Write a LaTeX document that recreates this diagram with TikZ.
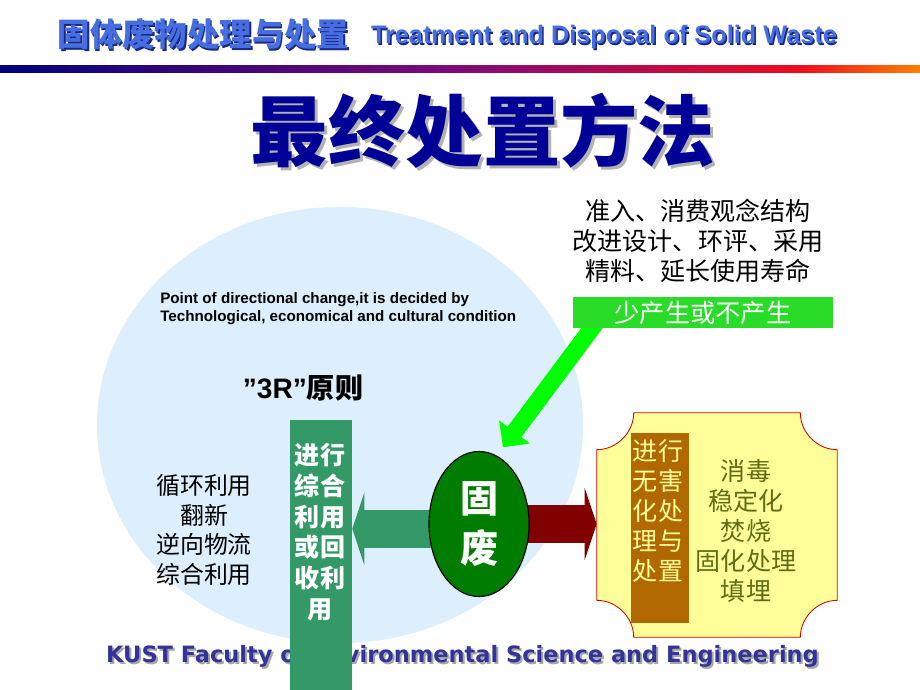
\documentclass[tikz,border=0pt]{standalone}
\usepackage{fontspec}
\setmainfont{Liberation Sans}
\newfontfamily\cjk{Noto Sans CJK SC}
\newfontfamily\footfont{DejaVu Sans}
\usetikzlibrary{arrows.meta, shapes.geometric, positioning, calc, backgrounds}

\definecolor{headblue}{RGB}{70,110,225}
\definecolor{headshade}{RGB}{25,40,130}
\definecolor{titleblue}{RGB}{0,0,150}
\definecolor{bubbleblue}{RGB}{221,239,252}
\definecolor{seagreen}{RGB}{51,153,102}
\definecolor{wastegreen}{RGB}{0,125,0}
\definecolor{limegreen}{RGB}{0,255,0}
\definecolor{boxgreen}{RGB}{40,220,40}
\definecolor{darkred}{RGB}{128,0,0}
\definecolor{plaqueyellow}{RGB}{255,255,153}
\definecolor{harmbrown}{RGB}{178,104,0}
\definecolor{olivetext}{RGB}{95,110,20}
\definecolor{footblue}{RGB}{51,51,153}
\definecolor{barnavy}{RGB}{0,0,128}
\definecolor{barpurple}{RGB}{128,10,120}
\definecolor{barred}{RGB}{240,10,30}
\definecolor{barorange}{RGB}{255,128,0}

\begin{document}
\begin{tikzpicture}[x=0.025cm, y=-0.025cm]
  \tikzstyle{cjktext}=[font=\cjk\fontsize{17.8}{21.5}\selectfont, align=center, inner sep=0pt]
  \tikzstyle{cjkbold}=[cjktext, font=\cjk\bfseries\fontsize{17.8}{21.8}\selectfont]
  \tikzstyle{headcn}=[font=\cjk\bfseries\fontsize{23}{26}\selectfont, inner sep=0pt]
  \tikzstyle{headen}=[font=\bfseries\fontsize{18}{20}\selectfont, inner sep=0pt]
  \tikzstyle{titlefont}=[font=\cjk\bfseries\fontsize{55}{60}\selectfont, inner sep=0pt]
  \tikzstyle{footer}=[font=\footfont\bfseries\fontsize{16}{18}\selectfont, inner sep=0pt]
  \tikzstyle{bigarrow}=[line width=0.95cm, -{Triangle[length=0.3cm, width=1.8cm]}]
  \tikzstyle{thinarrow}=[line width=0.43cm, limegreen, -{Triangle[length=0.48cm, width=0.93cm]}]

  \useasboundingbox (0,0) rectangle (920,690);

  % header line
  \shade[left color=barnavy, right color=barpurple] (0,66) rectangle (460,73);
  \shade[left color=barpurple, right color=barred] (459,66) rectangle (800,73);
  \shade[left color=barred, right color=barorange] (799,66) rectangle (920,73);

  \node[headcn, text=headshade] (courseshade) at (205,36) {固体废物处理与处置};
  \node[headcn, text=headblue]  (course)      at (203.5,34.5) {固体废物处理与处置};
  \node[headen, text=headshade] (courseenshade) at (605.5,38.5) {Treatment and Disposal of Solid Waste};
  \node[headen, text=headblue]  (courseen)      at (604,37) {Treatment and Disposal of Solid Waste};

  \node[titlefont, text=black!30]   (titleshade) at (486,134) {最终处置方法};
  \node[titlefont, text=titleblue]  (title)      at (483,131) {最终处置方法};

  % left part
  \node[anchor=west, align=left, inner sep=0pt, font=\bfseries\fontsize{10.8}{12.8}\selectfont] (point) at (160,309)
    {Point of directional change,it is decided by\\Technological, economical and cultural condition};
  \node[inner sep=0pt, font=\bfseries\fontsize{20}{24}\selectfont] (principle) at (303,388) {”3R”{\cjk 原则}};
  \node[cjktext, font=\cjk\fontsize{17}{21}\selectfont] (ways) at (204,530) {循环利用\\翻新\\逆向物流\\综合利用};

  \node[footer, text=black!35] (footshade) at (464.5,658.5) {KUST Faculty of Environmental Science and Engineering};
  \node[footer, text=footblue] (foot)      at (462.5,656) {KUST Faculty of Environmental Science and Engineering};

  \node[fill=seagreen, minimum width=1.55cm, minimum height=6.75cm, inner sep=0pt] (reuse) at (321,555) {};
  \node[cjkbold, text=white] (reuselbl) at (320,532) {进行\\综合\\利用\\或回\\收利\\用};

  % waste
  \node[ellipse, fill=wastegreen, draw=black, line width=0.8pt, minimum width=2.5cm, minimum height=3.625cm,
        inner sep=0pt, align=center, text=white, font=\cjk\bfseries\fontsize{27}{35.6}\selectfont] (waste) at (479,524) {固\\废};

  % top right
  \node[cjktext] (policy) at (698,241) {准入、消费观念结构\\改进设计、环评、采用\\精料、延长使用寿命};
  \node[fill=boxgreen, minimum width=6.5cm, minimum height=0.78cm, inner sep=0pt, text=white,
        font=\cjk\fontsize{18}{20}\selectfont] (less) at (703,312.5) {少产生或不产生};

  % right part
  \node[minimum width=6cm, minimum height=5.6cm, inner sep=0pt] (treat) at (717,525) {};
  \filldraw[fill=plaqueyellow, draw=red!85!black, line width=0.6pt]
    ($(treat.north west)+(37,0)$) -- ($(treat.north east)+(-37,0)$)
    .. controls ($(treat.north east)+(-37,20)$) and ($(treat.north east)+(-20,37)$) .. ($(treat.north east)+(0,37)$)
    -- ($(treat.south east)+(0,-37)$)
    .. controls ($(treat.south east)+(-20,-37)$) and ($(treat.south east)+(-37,-20)$) .. ($(treat.south east)+(-37,0)$)
    -- ($(treat.south west)+(37,0)$)
    .. controls ($(treat.south west)+(37,-20)$) and ($(treat.south west)+(20,-37)$) .. ($(treat.south west)+(0,-37)$)
    -- ($(treat.north west)+(0,37)$)
    .. controls ($(treat.north west)+(20,37)$) and ($(treat.north west)+(37,20)$) .. cycle;
  \node[fill=harmbrown, minimum width=1.45cm, minimum height=4.75cm, inner sep=0pt] (harm) at (660,528) {};
  \node[cjktext, text=plaqueyellow] (harmlbl) at (658,511) {进行\\无害\\化处\\理与\\处置};
  \node[cjktext, text=olivetext] (methods) at (746,531) {消毒\\稳定化\\焚烧\\固化处理\\填埋};

  \begin{scope}[on background layer]
    \fill[white] (0,0) rectangle (920,690);
    \node[ellipse, fill=bubbleblue, minimum width=12.15cm, minimum height=10.9cm, inner sep=0pt] (bubble) at (340,425) {};
    \draw[bigarrow, seagreen] ([xshift=0.1cm, yshift=-0.12cm]waste.west) -- ([yshift=-0.12cm]waste.west -| reuse.east);
    \draw[bigarrow, darkred] ([xshift=-0.1cm]waste.east) -- (waste.east -| treat.west);
    \draw[thinarrow] ([xshift=0.7cm, yshift=0.3cm]less.south west) -- ([xshift=0.6cm, yshift=0.09cm]waste.north);
  \end{scope}
\end{tikzpicture}
\end{document}
